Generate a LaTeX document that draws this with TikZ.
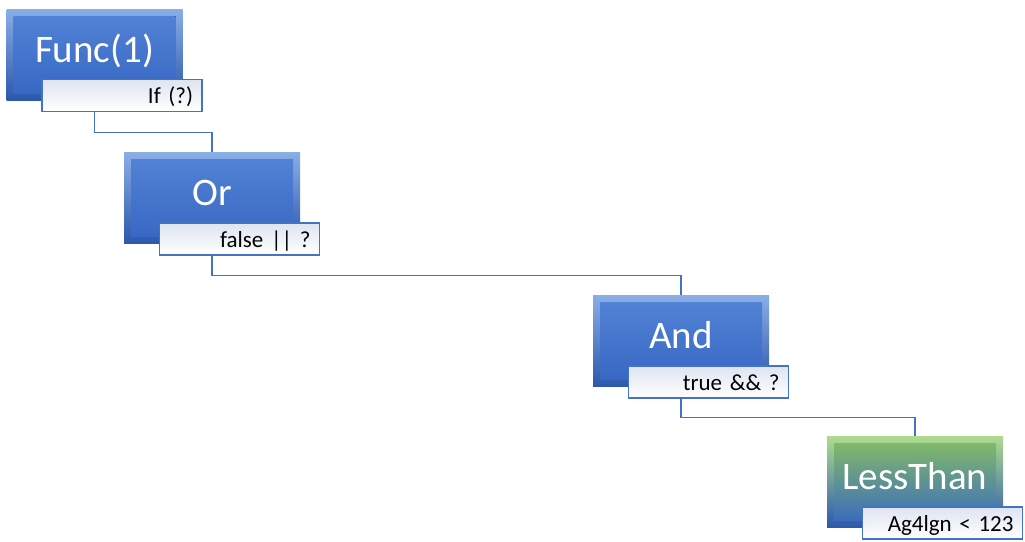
\documentclass[tikz,border=0pt]{standalone}
\usepackage{fontspec}
\setmainfont{Carlito}
\usetikzlibrary{calc,backgrounds}
\definecolor{linkblue}{HTML}{4472C4}
\definecolor{bevtop}{HTML}{8AAEE6}
\definecolor{bevbot}{HTML}{2C58AC}
\definecolor{intop}{HTML}{5384D6}
\definecolor{inbot}{HTML}{3666C2}
\definecolor{gbevtop}{HTML}{AEDB8E}
\definecolor{gintop}{HTML}{86BF63}
\definecolor{gmid}{HTML}{4C80C6}
\definecolor{lbltop}{HTML}{DEE4F0}
\tikzset{
  mainbox/.style={minimum width=176pt, minimum height=91pt, inner sep=0pt,
    top color=bevtop, bottom color=bevbot, text=white,
    font=\fontsize{39}{39}\selectfont, text height=25pt, text depth=10pt,
    path picture={\fill[top color=intop, bottom color=inbot]
      ([shift={(7pt,-7pt)}]path picture bounding box.north west) rectangle
      ([shift={(-7pt,7pt)}]path picture bounding box.south east);}},
  greenbox/.style={mainbox, top color=gbevtop, bottom color=bevbot,
    path picture={\fill[top color=gintop, middle color=gmid, bottom color=inbot]
      ([shift={(7pt,-7pt)}]path picture bounding box.north west) rectangle
      ([shift={(-7pt,7pt)}]path picture bounding box.south east);}},
  lbl/.style={anchor=north west, minimum width=160pt, minimum height=32pt,
    inner xsep=9pt, inner ysep=0pt, text width=142pt, align=right,
    top color=lbltop, bottom color=white, draw=linkblue, line width=1.5pt,
    font=\fontsize{23}{23}\selectfont, text height=17pt, text depth=1pt},
  link/.style={draw=linkblue, line width=1.6pt}
}
\begin{document}
\begin{tikzpicture}[x=1pt,y=-1pt]
\useasboundingbox (0,0) rectangle (1025,541);
\node[mainbox] (f) at (94.5,54.5) {Func(1)};
\node[lbl] (fl) at ([shift={(35pt,-70pt)}]f.north west) {If (?)};
\node[mainbox] (o) at (212,198) {Or};
\node[lbl] (ol) at ([shift={(35pt,-70pt)}]o.north west) {false || ?};
\node[mainbox] (a) at (681,341) {And};
\node[lbl] (al) at ([shift={(35pt,-70pt)}]a.north west) {true \&\& ?};
\node[greenbox] (l) at (915,482) {LessThan};
\node[lbl] (ll) at ([shift={(35pt,-70pt)}]l.north west) {Ag4lgn < 123};
\begin{pgfonlayer}{background}
\draw[link] (f.center) |- ($(fl.south)!.5!(o.north)$) -| (o.center);
\draw[link] (o.center) |- ($(ol.south)!.5!(a.north)$) -| (a.center);
\draw[link] (a.center) |- ($(al.south)!.5!(l.north)$) -| (l.center);
\end{pgfonlayer}
\end{tikzpicture}
\end{document}
